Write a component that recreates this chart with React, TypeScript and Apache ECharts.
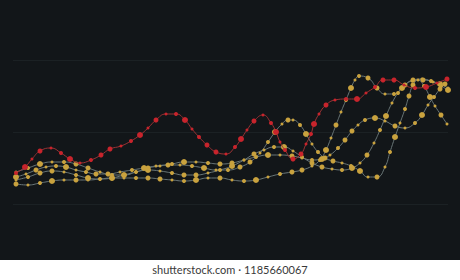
import React, { useEffect, useRef } from "react";
import * as echarts from "echarts";

// x: position along the horizontal scale (0..435), y: level (0..144)
const redPoints: number[][] = [
  [3,31],[12,37],[19,45],[27,53],[38,56],[48,51],[57,45],[67,41],[78,44],[88,49],[97,55],[108,58],[118,63],[127,69],[135,76],[143,84],[153,90],[163,90],[172,84],[179,75],[186,67],[194,59],[203,52],[213,50],[222,57],[228,65],[234,74],[241,83],[250,89],[258,81],[263,72],[267,62],[272,54],[280,45],[288,50],[293,60],[298,70],[301,80],[306,90],[313,99],[322,104],[333,105],[344,105],[353,111],[362,117],[370,124],[381,124],[391,119],[402,116],[413,117],[424,121],[434,125]
];

const goldA: number[][] = [
  [3,20],[15,19],[27,21],[39,23],[51,24],[63,24],[75,24],[87,25],[99,26],[111,26],[123,26],[135,26],[147,25],[159,24],[171,23],[183,24],[195,26],[207,26],[219,24],[231,23],[243,24],[255,27],[267,30],[279,32],[289,34],[299,38],[307,44],[313,54],[318,66],[323,79],[328,92],[333,104],[338,116],[342,124],[346,128],[355,126],[364,116],[372,110],[381,110],[389,116],[399,123],[410,124],[420,122],[428,118],[435,114]
];

const goldB: number[][] = [
  [3,27],[13,30],[23,34],[33,37],[43,38],[53,37],[63,34],[73,32],[83,30],[95,30],[107,32],[119,34],[131,36],[143,38],[155,39],[167,39],[179,38],[191,36],[203,34],[215,34],[227,37],[237,42],[247,51],[255,62],[262,72],[269,80],[275,84],[280,84],[287,79],[293,70],[299,60],[305,52],[312,46],[320,43],[329,41],[338,38],[347,33],[355,27],[364,27],[372,37],[377,52],[382,67],[387,81],[392,95],[396,108],[400,119],[405,124],[411,118],[417,107],[422,98],[428,89],[434,80]
];

const goldC: number[][] = [
  [3,32],[15,36],[27,40],[39,42],[51,42],[63,40],[75,36],[87,32],[99,29],[111,29],[123,32],[135,36],[147,38],[159,40],[171,42],[183,42],[195,41],[207,40],[219,41],[231,44],[243,47],[255,49],[267,49],[279,48],[289,46],[299,44],[309,45],[317,49],[325,56],[332,64],[339,73],[345,79],[352,84],[362,86],[372,83],[382,78],[392,76],[402,81],[409,89],[415,99],[421,107],[427,115],[432,120]
];

const goldD: number[][] = [
  [3,24],[15,27],[27,31],[39,33],[51,32],[63,29],[75,26],[87,25],[99,26],[111,29],[123,32],[135,34],[147,33],[159,31],[171,29],[183,29],[195,31],[207,34],[219,38],[231,44],[241,50],[251,54],[261,57],[271,57],[280,53],[289,47],[299,41],[309,37],[319,35],[329,34],[339,36],[347,41],[354,49],[361,61],[367,74],[373,88],[379,101],[385,111],[392,119],[400,124],[409,125],[418,123],[427,120],[435,116]
];

const yTicks = [0, 72, 144];
const watermark = "shutterstock.com · 1185660067";

const SIZES = [5, 3, 4, 6, 3, 5, 3, 4, 6, 3, 4, 5];

export default function App() {
  const ref = useRef<HTMLDivElement>(null);
  useEffect(() => {
    document.body.style.margin = "0";
    const chart = echarts.init(ref.current!, null, { renderer: "svg" });
    const mk = (name: string, data: number[][], dot: string, line: string, off: number) => ({
      name,
      type: "line",
      data,
      smooth: 0.5,
      symbol: "circle",
      showSymbol: true,
      symbolSize: (_v: any, p: any) => SIZES[(p.dataIndex + off) % SIZES.length],
      itemStyle: { color: dot },
      lineStyle: { color: line, width: 1 },
      emphasis: { disabled: true },
      z: name === "red" ? 3 : 2,
    });
    const gold = "#c9a23e";
    const grey = "#6a7778";
    chart.setOption({
      animation: false,
      backgroundColor: "#121619",
      grid: { left: 13, right: 12, top: 60, bottom: 76 },
      xAxis: {
        type: "value", min: 0, max: 435,
        axisLine: { show: false }, axisTick: { show: false },
        axisLabel: { show: false }, splitLine: { show: false },
      },
      yAxis: {
        type: "value", min: yTicks[0], max: yTicks[yTicks.length - 1], interval: 72,
        axisLine: { show: false }, axisTick: { show: false }, axisLabel: { show: false },
        splitLine: { lineStyle: { color: "#1b2124", width: 1 } },
      },
      series: [
        mk("goldA", goldA, gold, grey, 0),
        mk("goldB", goldB, gold, grey, 3),
        mk("goldC", goldC, gold, grey, 6),
        mk("goldD", goldD, gold, grey, 9),
        mk("red", redPoints, "#c8242c", "#9a3234", 2),
      ],
      graphic: [
        { type: "rect", left: 0, top: 260, shape: { width: 460, height: 20 }, style: { fill: "#ffffff" }, z: 10 },
        {
          type: "text", left: "center", top: 264, z: 11,
          style: { text: watermark, fill: "#3a3a3a", font: "11px Lato" },
        },
      ],
    });
    return () => chart.dispose();
  }, []);
  return <div ref={ref} style={{ width: 460, height: 280 }} />;
}
